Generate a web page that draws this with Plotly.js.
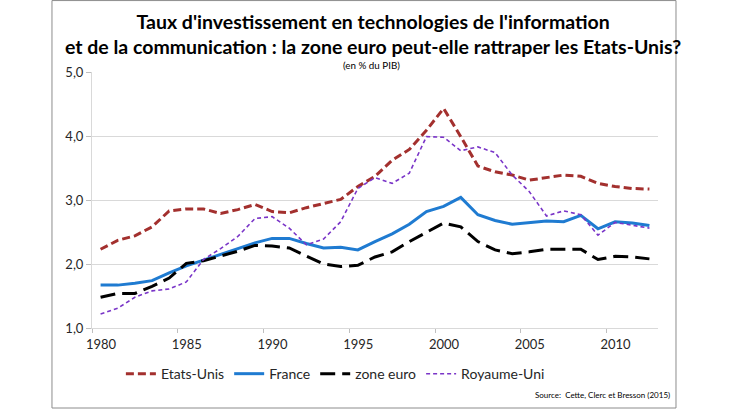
<!DOCTYPE html>
<html>
<head>
<meta charset="utf-8">
<script src="https://cdn.plot.ly/plotly-3.0.1.min.js"></script>
<style>
html,body{margin:0;padding:0;background:#fff;}
#chart{width:730px;height:410px;}
</style>
</head>
<body>
<div id="chart"></div>
<script>
const years = [1980,1981,1982,1983,1984,1985,1986,1987,1988,1989,1990,1991,1992,1993,1994,1995,1996,1997,1998,1999,2000,2001,2002,2003,2004,2005,2006,2007,2008,2009,2010,2011,2012];
const etatsUnis = [2.23,2.37,2.44,2.58,2.83,2.86,2.86,2.79,2.85,2.93,2.82,2.80,2.88,2.95,3.01,3.21,3.37,3.62,3.79,4.09,4.43,3.99,3.53,3.44,3.39,3.31,3.35,3.39,3.37,3.26,3.21,3.18,3.17];
const france = [1.67,1.67,1.70,1.74,1.86,1.97,2.06,2.15,2.25,2.33,2.40,2.40,2.32,2.25,2.26,2.22,2.35,2.47,2.62,2.82,2.90,3.04,2.77,2.68,2.62,2.65,2.67,2.66,2.76,2.55,2.66,2.64,2.60];
const zoneEuro = [1.48,1.54,1.54,1.65,1.78,2.01,2.05,2.12,2.20,2.29,2.28,2.25,2.12,2.00,1.96,1.98,2.11,2.19,2.35,2.50,2.64,2.58,2.35,2.22,2.16,2.19,2.23,2.23,2.23,2.07,2.12,2.11,2.08];
const royaumeUni = [1.22,1.31,1.48,1.58,1.61,1.72,2.07,2.24,2.43,2.71,2.74,2.56,2.30,2.39,2.66,3.18,3.35,3.26,3.42,3.99,3.98,3.77,3.83,3.74,3.39,3.13,2.75,2.83,2.77,2.45,2.65,2.61,2.56];
const tickPositions = [1979.5,1984.5,1989.5,1994.5,1999.5,2004.5,2009.5];
const tickLabels = ['1980','1985','1990','1995','2000','2005','2010'];
const yTicks = [1,2,3,4,5];

const font = 'Lato, "Open Sans", sans-serif';
const traces = [
  {x: years, y: etatsUnis, name: 'Etats-Unis', mode: 'lines', line: {color: '#a3302e', width: 3, dash: '8px,4px'}},
  {x: years, y: france, name: 'France', mode: 'lines', line: {color: '#1f7bd1', width: 3}},
  {x: years, y: zoneEuro, name: 'zone euro', mode: 'lines', line: {color: '#000000', width: 3, dash: '15px,7px'}},
  {x: years, y: royaumeUni, name: 'Royaume-Uni', mode: 'lines', line: {color: '#7a35c8', width: 1.6, dash: '4px,3px'}}
];
const layout = {
  width: 730, height: 410,
  margin: {l: 92, r: 72, t: 72, b: 82},
  paper_bgcolor: '#fff', plot_bgcolor: '#fff',
  separators: ', ',
  font: {family: font, color: '#262626', size: 13},
  showlegend: true,
  legend: {orientation: 'h', x: 0.43, xanchor: 'center', y: -0.18, yanchor: 'middle', font: {size: 14, color: '#262626'}, traceorder: 'normal'},
  xaxis: {
    range: [1979.5, 2012.5], tickmode: 'array', tickvals: tickPositions, ticktext: tickLabels,
    ticklabelshift: 9, ticks: 'outside', ticklen: 4, tickcolor: '#bfbfbf',
    showgrid: false, showline: true, linecolor: '#d9d9d9', zeroline: false,
    tickfont: {size: 13, color: '#262626'}, fixedrange: true
  },
  yaxis: {
    range: [1, 5], tickmode: 'array', tickvals: yTicks, tickformat: '.1f',
    ticks: 'outside', ticklen: 5, tickcolor: '#bfbfbf',
    showgrid: true, gridcolor: '#d9d9d9', gridwidth: 1,
    showline: true, linecolor: '#d9d9d9', zeroline: false,
    tickfont: {size: 13, color: '#262626'}, fixedrange: true
  },
  annotations: [
    {xref: 'paper', yref: 'paper', x: 0.497, y: 1.15, xanchor: 'center', yanchor: 'middle', showarrow: false,
     text: "<b>Taux d'investissement en technologies de l'information<br>et de la communication : la zone euro peut-elle rattraper les Etats-Unis?</b>",
     font: {size: 19.5, color: '#000', family: font}},
    {xref: 'paper', yref: 'paper', x: 0.493, y: 1.0285, xanchor: 'center', yanchor: 'middle', showarrow: false,
     text: '(en % du PIB)', font: {size: 9.8, color: '#000', family: font}},
    {xref: 'paper', yref: 'paper', x: 1.025, y: -0.26, xanchor: 'right', yanchor: 'middle', showarrow: false,
     text: 'Source:  Cette, Clerc et Bresson (2015)', font: {size: 8, color: '#000', family: font}}
  ],
  shapes: [
    {type: 'rect', xref: 'paper', yref: 'paper', x0: -0.0707, x1: 1.0318, y0: -0.3125, y1: 1.279,
     line: {color: '#8c8c8c', width: 1}, fillcolor: 'rgba(0,0,0,0)'}
  ]
};
Plotly.newPlot('chart', traces, layout, {displayModeBar: false, staticPlot: true});
</script>
</body>
</html>
